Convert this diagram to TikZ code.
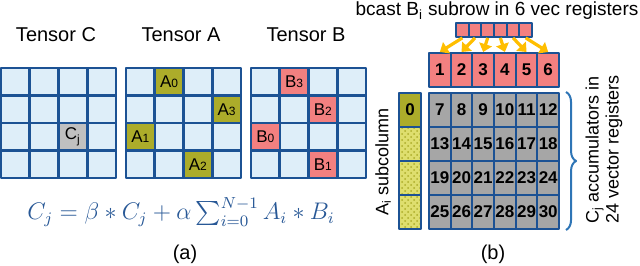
\documentclass[tikz,border=0pt]{standalone}
\usepackage{amsmath}
\usepackage{fontspec}
\setmainfont{Liberation Sans}
\usetikzlibrary{calc}
\usetikzlibrary{positioning}
\usetikzlibrary{arrows.meta}
\usetikzlibrary{patterns}
\usetikzlibrary{decorations.pathreplacing}

\definecolor{bordo}{RGB}{28,82,148}
\definecolor{azzurro}{RGB}{222,238,249}
\definecolor{oliva}{RGB}{172,172,42}
\definecolor{olivachiaro}{RGB}{222,222,110}
\definecolor{rosa}{RGB}{243,128,128}
\definecolor{grigio}{RGB}{192,192,192}
\definecolor{grigioscuro}{RGB}{166,166,166}
\definecolor{arancio}{RGB}{255,190,0}
\definecolor{formula}{RGB}{40,88,150}
\definecolor{blugraffa}{RGB}{46,117,182}

\newcommand{\pedice}[1]{{\fontsize{6}{6}\selectfont #1}}

\begin{document}
\begin{tikzpicture}[
        x=0.5pt, y=-0.5pt,
        line join=round,
        cella/.style={draw=bordo, line width=1.3pt, fill=azzurro, inner sep=0pt,
            minimum width=14.4pt, minimum height=13.75pt,
            font=\fontsize{8.5}{8.5}\selectfont},
        reg/.style={draw=bordo, line width=1pt, inner sep=0pt,
            minimum width=10.83pt, minimum height=17pt,
            font=\bfseries\fontsize{8.5}{8.5}\selectfont},
        mini/.style={draw=bordo, line width=0.9pt, fill=rosa, inner sep=0pt,
            minimum width=6.33pt, minimum height=7pt},
        freccia/.style={draw=arancio, line width=1.6pt, -{Triangle[length=4pt,width=6.5pt]}},
        graffa/.style={draw=blugraffa, line width=1pt, decorate, decoration={brace, amplitude=5pt}},
        titolo/.style={font=\fontsize{10}{12}\selectfont}
    ]
    \useasboundingbox (0,0) rectangle (640,266);

    % Parte (a): i tre tensori 4x4
    \foreach \ten/\xo in {C/1, A/126, B/251}{
        \node[titolo] (tit\ten) at (\xo+55,35) {Tensor\ \ten};
        \foreach \row in {0,...,3}{
            \foreach \col in {0,...,3}{
                \node[cella] (\ten-\row-\col) at (\xo+14.4+28.75*\col, 81.75+27.5*\row) {};
            }
        }
    }

    % celle evidenziate
    \node[cella, fill=grigio] (Cj) at (C-2-2) {C\textsubscript{j}};

    \node[cella, fill=oliva] (A0) at (A-0-1) {A\pedice{0}};
    \node[cella, fill=oliva] (A3) at (A-1-3) {A\pedice{3}};
    \node[cella, fill=oliva] (A1) at (A-2-0) {A\pedice{1}};
    \node[cella, fill=oliva] (A2) at (A-3-2) {A\pedice{2}};

    \node[cella, fill=rosa] (B3) at (B-0-1) {B\pedice{3}};
    \node[cella, fill=rosa] (B2) at (B-1-2) {B\pedice{2}};
    \node[cella, fill=rosa] (B0) at (B-2-0) {B\pedice{0}};
    \node[cella, fill=rosa] (B1) at (B-3-2) {B\pedice{1}};

    \node[text=formula, font=\fontsize{12}{14}\selectfont] (eq) at (181,212)
        {$C_j = \beta * C_j + \alpha \sum_{i=0}^{N-1} A_i * B_i$};
    \node[titolo] (lblA) at (185,254) {(a)};

    % Parte (b): registri vettoriali
    \node[font=\fontsize{9.5}{11}\selectfont] (titB) at (497,11)
        {bcast B\textsubscript{i} subrow in 6 vec registers};
    \foreach \i in {1,...,6}{
        \node[mini] (s\i) at (456+12.67*\i-6.33, 30) {};
        \node[reg, fill=rosa] (r\i) at (429+21.67*\i-10.83, 70) {\i};
        \draw[freccia] (s\i.south) -- (r\i.north);
    }

    % accumulatori 7..30
    \foreach \k in {0,...,3}{
        \foreach \i in {1,...,6}{
            \pgfmathtruncatemacro{\n}{6+6*\k+\i}
            \node[reg, fill=grigioscuro] (g\n) at (429+21.67*\i-10.83, 110+34*\k) {\n};
        }
    }

    % sottocolonna A
    \node[reg, fill=oliva, minimum width=11pt] (a0) at (410,110) {0};
    \foreach \k in {1,2,3}{
        \node[reg, minimum width=11pt, preaction={fill=olivachiaro},
            pattern=crosshatch dots, pattern color=oliva] (a\k) at (410,110+34*\k) {};
    }
    \node[rotate=90, font=\fontsize{9}{10}\selectfont] (lblAi) at (383,162)
        {A\textsubscript{i} subcolumn};

    % graffa
    \draw[graffa] ($(g12.north east)+(6,0)$) -- ($(g30.south east)+(6,0)$);
    \node[rotate=90, align=left, anchor=west, font=\fontsize{9}{10}\selectfont] (lblCj)
        at (604,231) {C\textsubscript{j} accumulators in\\24 vector registers};

    \node[titolo] (lblB) at (493,254) {(b)};
\end{tikzpicture}
\end{document}
